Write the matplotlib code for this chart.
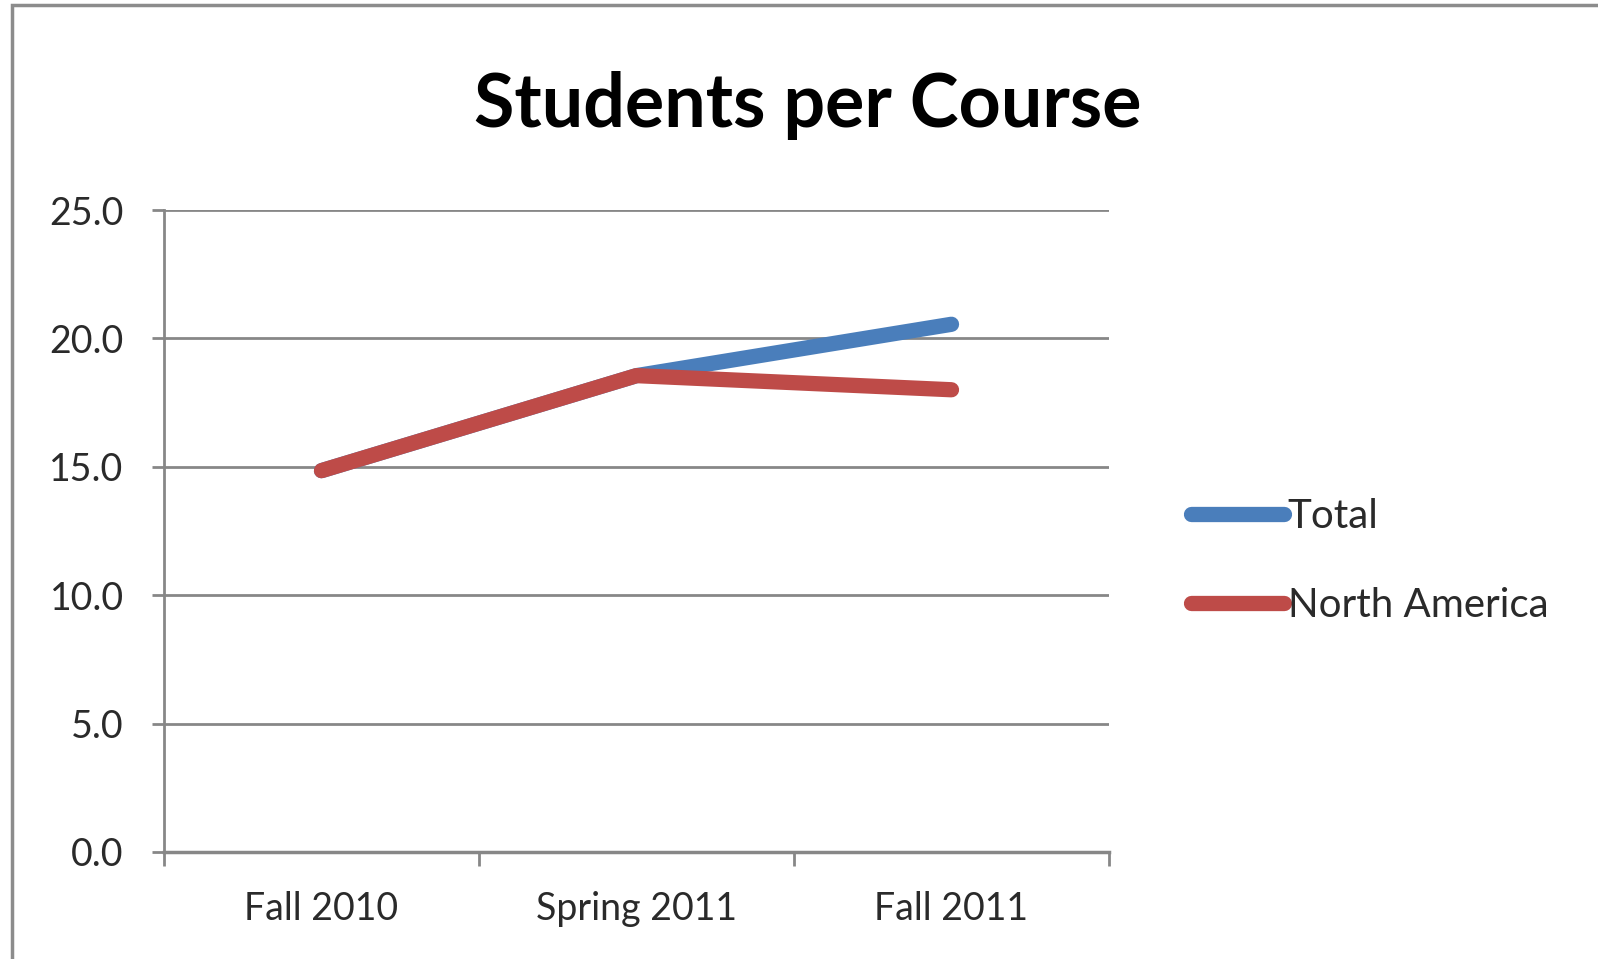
import matplotlib.pyplot as plt
from matplotlib.patches import Rectangle

# data
terms = ['Fall 2010', 'Spring 2011', 'Fall 2011']
total = [14.85, 18.55, 20.55]
north_america = [14.85, 18.55, 18.0]

blue = '#4A7EBB'
red = '#BE4B48'
grid_col = '#878787'

plt.rcParams['font.family'] = ['Lato', 'DejaVu Sans']

fig = plt.figure(figsize=(15.98, 9.59), dpi=100)
ax = fig.add_axes([164/1598, 1-852/959, (1109-164)/1598, (852-210)/959])

x = range(len(terms))
ax.plot(x, total, color=blue, lw=11, solid_capstyle='round', label='Total', zorder=3)
ax.plot(x, north_america, color=red, lw=11, solid_capstyle='round', label='North America', zorder=4)

ax.set_xlim(-0.5, len(terms) - 0.5)
ax.set_ylim(0, 25)
ax.set_yticks([0, 5, 10, 15, 20, 25])
ax.set_yticklabels([f'{v:.1f}' for v in [0, 5, 10, 15, 20, 25]], fontsize=27, color='#2a2a2a')
ax.yaxis.grid(True, color=grid_col, lw=2)
ax.set_axisbelow(True)

ax.set_xticks(list(x))
ax.set_xticklabels(terms, fontsize=27, color='#2a2a2a')
ax.set_xticks([-0.5, 0.5, 1.5, 2.5], minor=True)
ax.tick_params(axis='x', which='major', length=0, pad=28)
ax.tick_params(axis='x', which='minor', length=10, width=2, color=grid_col)
ax.tick_params(axis='y', length=9, width=2, color=grid_col, pad=20)

for s in ['top', 'right']:
    ax.spines[s].set_visible(False)
ax.spines['left'].set_color(grid_col)
ax.spines['left'].set_linewidth(2)
ax.spines['bottom'].set_color(grid_col)
ax.spines['bottom'].set_linewidth(2.5)

fig.text(808/1598, 1-105/959, 'Students per Course', fontsize=53, fontweight='bold',
         ha='center', va='center')

leg = ax.legend(loc='upper left', bbox_to_anchor=(1191/1598, 1-498/959),
                bbox_transform=fig.transFigure, frameon=False, fontsize=29,
                handlelength=2.3, handletextpad=0.1, labelspacing=1.3,
                borderpad=0, borderaxespad=0)
for t in leg.get_texts():
    t.set_color('#2a2a2a')

# outer chart border (cropped on the right and bottom)
fig.patches.append(Rectangle((12/1598, -0.1), 1.2, 1 - 5/959 + 0.1,
                             transform=fig.transFigure, fill=False,
                             edgecolor='#8c8c8c', lw=2.5))

fig.savefig('out.png', dpi=100)
